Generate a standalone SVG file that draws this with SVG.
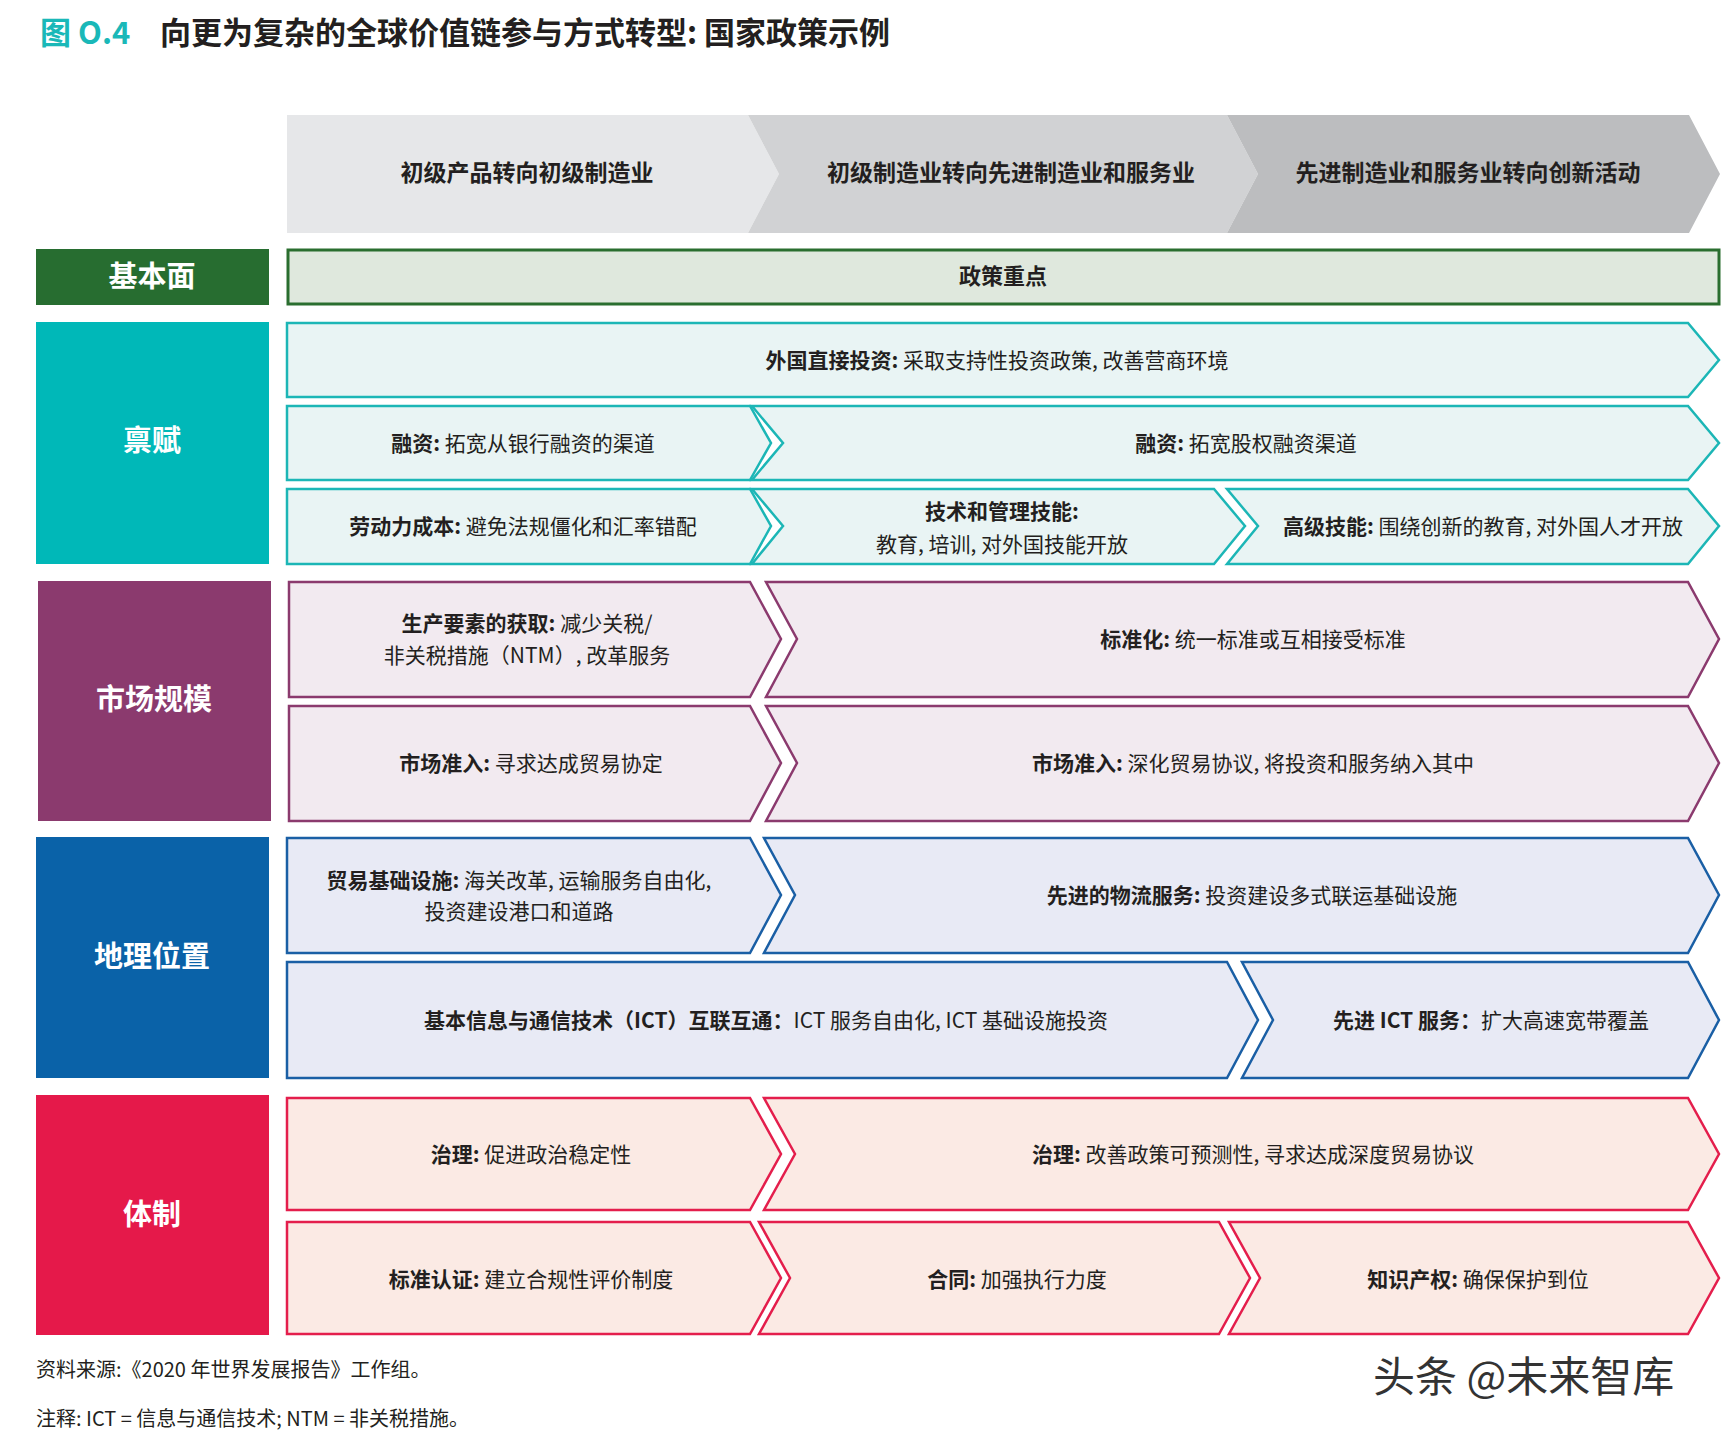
<svg xmlns="http://www.w3.org/2000/svg" width="1730" height="1438" viewBox="0 0 1730 1438">
<style>
text{font-family:"Noto Sans CJK SC","Liberation Sans",sans-serif;fill:#231f20}
.h{font-size:23px;font-weight:bold;text-anchor:middle}
.t{font-size:21px;text-anchor:middle}
.t tspan.b{font-weight:bold}
.lab{font-size:29px;font-weight:bold;fill:#fff;text-anchor:middle}
.teal{fill:#e9f4f4;stroke:#1cb6b6;stroke-width:2.5}
.plum{fill:#f2eaf0;stroke:#8b3a6e;stroke-width:2.5}
.blue{fill:#e8eaf5;stroke:#1a5fa5;stroke-width:2.5}
.red{fill:#fbeae4;stroke:#e41e4c;stroke-width:2.5}
.foot{font-size:20px}
</style>
<text x="40" y="44" style="font-size:31px;font-weight:bold;fill:#1ab8b8">图 O.4</text>
<text x="160" y="44" style="font-size:31px;font-weight:bold">向更为复杂的全球价值链参与方式转型: 国家政策示例</text>
<g id="header">
<polygon points="287,115 748,115 779,174 748,233 287,233" fill="#e6e7e9"/>
<polygon points="748,115 1227,115 1258,174 1227,233 748,233 779,174" fill="#d1d2d4"/>
<polygon points="1227,115 1689,115 1720,174 1689,233 1227,233 1258,174" fill="#bcbdbf"/>
<text class="h" x="527" y="181">初级产品转向初级制造业</text>
<text class="h" x="1011" y="181">初级制造业转向先进制造业和服务业</text>
<text class="h" x="1468" y="181">先进制造业和服务业转向创新活动</text>
</g>
<g id="basics">
<rect x="36" y="249" width="233" height="56" fill="#276d30"/>
<text class="lab" x="152" y="287">基本面</text>
<rect x="288" y="250" width="1431" height="54" fill="#dfe8dd" stroke="#2a6e2f" stroke-width="3"/>
<text class="h" x="1003" y="284" style="font-size:22px">政策重点</text>
</g>
<g id="endowment">
<rect x="36" y="322" width="233" height="242" fill="#00b8b8"/>
<text class="lab" x="152" y="451">禀赋</text>
<polygon class="teal" points="287,323 1688,323 1719,360 1688,397 287,397"/>
<text class="t" x="997" y="368"><tspan class="b">外国直接投资:</tspan> 采取支持性投资政策, 改善营商环境</text>
<polygon class="teal" points="287,406 750,406 771,443 750,480 287,480"/>
<polygon class="teal" points="752,406 1688,406 1719,443 1688,480 752,480 783,443"/>
<text class="t" x="523" y="451"><tspan class="b">融资:</tspan> 拓宽从银行融资的渠道</text>
<text class="t" x="1246" y="451"><tspan class="b">融资:</tspan> 拓宽股权融资渠道</text>
<polygon class="teal" points="287,489 750,489 771,526 750,564 287,564"/>
<polygon class="teal" points="752,489 1214,489 1245,526 1214,564 752,564 783,526"/>
<polygon class="teal" points="1227,489 1688,489 1719,526 1688,564 1227,564 1258,526"/>
<text class="t" x="523" y="534"><tspan class="b">劳动力成本:</tspan> 避免法规僵化和汇率错配</text>
<text class="t" x="1002" y="519"><tspan class="b">技术和管理技能:</tspan></text>
<text class="t" x="1002" y="552">教育, 培训, 对外国技能开放</text>
<text class="t" x="1483" y="534"><tspan class="b">高级技能:</tspan> 围绕创新的教育, 对外国人才开放</text>
</g>
<g id="market">
<rect x="38" y="581" width="233" height="240" fill="#8b3a6e"/>
<text class="lab" x="154" y="710">市场规模</text>
<polygon class="plum" points="289,582 750,582 781,639 750,697 289,697"/>
<polygon class="plum" points="766,582 1688,582 1719,639 1688,697 766,697 797,639"/>
<text class="t" x="527" y="631"><tspan class="b">生产要素的获取:</tspan> 减少关税/</text>
<text class="t" x="527" y="663">非关税措施（NTM）, 改革服务</text>
<text class="t" x="1253" y="647"><tspan class="b">标准化:</tspan> 统一标准或互相接受标准</text>
<polygon class="plum" points="289,706 750,706 781,763 750,821 289,821"/>
<polygon class="plum" points="766,706 1688,706 1719,763 1688,821 766,821 797,763"/>
<text class="t" x="531" y="771"><tspan class="b">市场准入:</tspan> 寻求达成贸易协定</text>
<text class="t" x="1253" y="771"><tspan class="b">市场准入:</tspan> 深化贸易协议, 将投资和服务纳入其中</text>
</g>
<g id="geography">
<rect x="36" y="837" width="233" height="241" fill="#0a62a8"/>
<text class="lab" x="152" y="967">地理位置</text>
<polygon class="blue" points="287,838 750,838 781,895 750,953 287,953"/>
<polygon class="blue" points="764,838 1688,838 1719,895 1688,953 764,953 795,895"/>
<text class="t" x="519" y="888"><tspan class="b">贸易基础设施:</tspan> 海关改革, 运输服务自由化,</text>
<text class="t" x="519" y="919">投资建设港口和道路</text>
<text class="t" x="1252" y="903"><tspan class="b">先进的物流服务:</tspan> 投资建设多式联运基础设施</text>
<polygon class="blue" points="287,962 1227,962 1258,1020 1227,1078 287,1078"/>
<polygon class="blue" points="1242,962 1688,962 1719,1020 1688,1078 1242,1078 1273,1020"/>
<text class="t" x="766" y="1028"><tspan class="b">基本信息与通信技术（ICT）互联互通：</tspan>ICT 服务自由化, ICT 基础设施投资</text>
<text class="t" x="1491" y="1028"><tspan class="b">先进 ICT 服务：</tspan>扩大高速宽带覆盖</text>
</g>
<g id="institutions">
<rect x="36" y="1095" width="233" height="240" fill="#e5194a"/>
<text class="lab" x="152" y="1225">体制</text>
<polygon class="red" points="287,1098 750,1098 781,1154 750,1210 287,1210"/>
<polygon class="red" points="764,1098 1688,1098 1719,1154 1688,1210 764,1210 795,1154"/>
<text class="t" x="531" y="1162"><tspan class="b">治理:</tspan> 促进政治稳定性</text>
<text class="t" x="1253" y="1162"><tspan class="b">治理:</tspan> 改善政策可预测性, 寻求达成深度贸易协议</text>
<polygon class="red" points="287,1222 750,1222 781,1278 750,1334 287,1334"/>
<polygon class="red" points="759,1222 1219,1222 1250,1278 1219,1334 759,1334 790,1278"/>
<polygon class="red" points="1229,1222 1688,1222 1719,1278 1688,1334 1229,1334 1260,1278"/>
<text class="t" x="531" y="1287"><tspan class="b">标准认证:</tspan> 建立合规性评价制度</text>
<text class="t" x="1017" y="1287"><tspan class="b">合同:</tspan> 加强执行力度</text>
<text class="t" x="1478" y="1287"><tspan class="b">知识产权:</tspan> 确保保护到位</text>
</g>
<g id="connectors"></g>
<text class="foot" x="36" y="1377">资料来源:《2020 年世界发展报告》工作组。</text>
<text class="foot" x="36" y="1426">注释: ICT = 信息与通信技术; NTM = 非关税措施。</text>
<text x="1373" y="1392" style="font-size:42px;fill:#333">头条 @未来智库</text>
</svg>
